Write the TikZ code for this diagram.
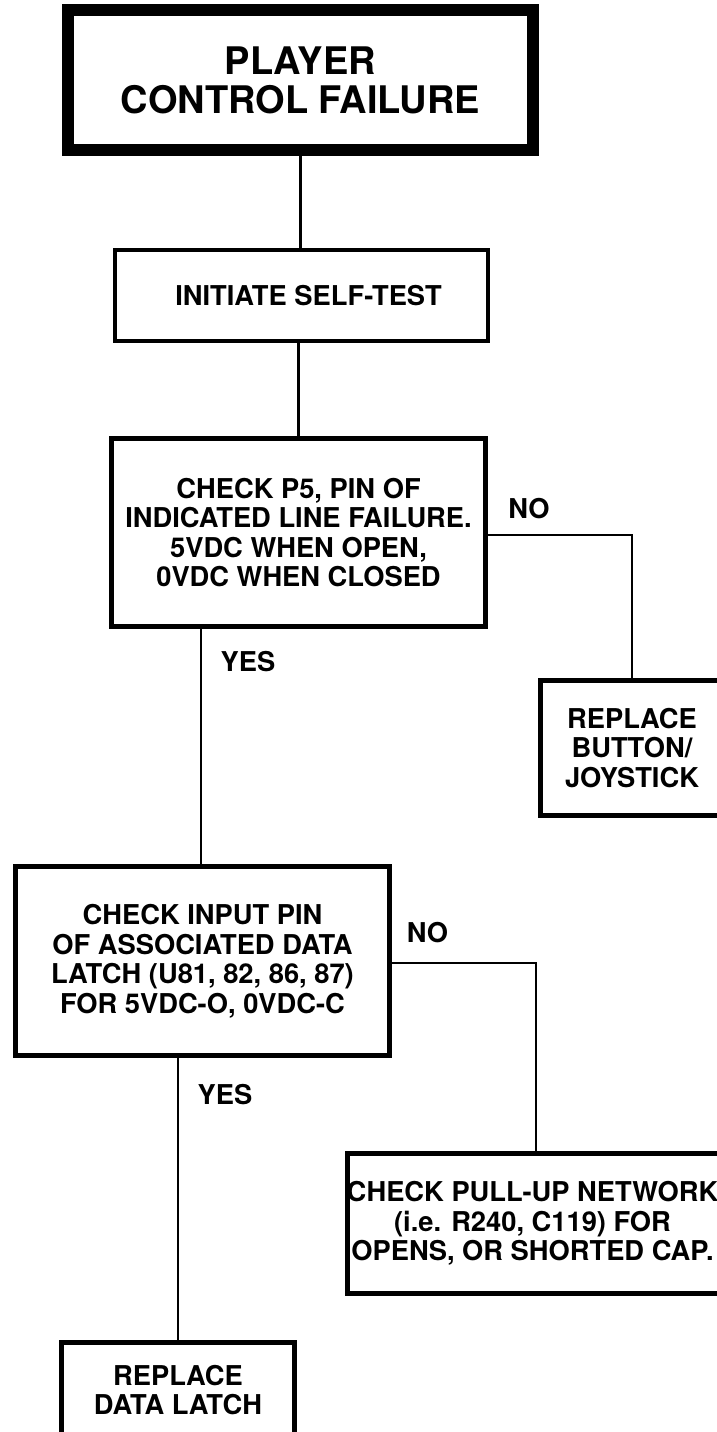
\documentclass[tikz,border=0pt]{standalone}
\usepackage{fontspec}
\setmainfont{TeX Gyre Heros}
\begin{document}
\begin{tikzpicture}[x=1pt,y=-1pt,
  every node/.style={font=\bfseries\fontsize{27.3}{29.5}\selectfont, align=center, inner sep=0pt},
  box/.style={draw, line width=5pt},
  titlebox/.style={draw, line width=12pt, font=\bfseries\fontsize{38}{39}\selectfont},
  conn/.style={line width=2.6pt},
  lbl/.style={}
]
\useasboundingbox (0,0) rectangle (717,1432);
\clip (0,0) rectangle (717,1432);
\fill[white] (0,0) rectangle (717,1432);

% boxes
\node[titlebox, minimum width=465pt, minimum height=140pt] (b1) at (300.5,80) {PLAYER\\CONTROL FAILURE};
\node[box, line width=4.5pt, minimum width=373pt, minimum height=91pt] (b2) at (301.5,295.5) {\hspace*{14pt}INITIATE SELF-TEST};
\node[box, minimum width=374pt, minimum height=188pt] (b3) at (298.5,532.5) {CHECK P5, PIN OF\\INDICATED LINE FAILURE.\\5VDC WHEN OPEN,\\0VDC WHEN CLOSED};
\node[box, minimum width=183pt, minimum height=135pt] (b4) at (632,748) {REPLACE\\BUTTON/\\JOYSTICK};
\node[box, minimum width=374pt, minimum height=189pt] (b5) at (202.5,961) {CHECK INPUT PIN\\OF ASSOCIATED DATA\\LATCH (U81, 82, 86, 87)\\FOR 5VDC-O, 0VDC-C};
\node[box, minimum width=377pt, minimum height=140pt] (b6) at (536,1223.5) {};
\node (b6t) at (532.5,1223.5) {CHECK PULL-UP NETWORK\\(i.e. R240, C119) FOR\\OPENS, OR SHORTED CAP.};
\node[box, minimum width=233pt, minimum height=95pt] (b7) at (178,1390) {REPLACE\\DATA LATCH};

% labels
\node[lbl] (no1) at (529,509) {NO};
\node[lbl] (yes1) at (248,662) {YES};
\node[lbl] (no2) at (427.5,933) {NO};
\node[lbl] (yes2) at (225,1095) {YES};

% junction coordinates
\coordinate (j1) at (632,535);
\coordinate (j2) at (201,700);
\coordinate (j3) at (536,963);

% connectors
\draw[conn] (b1.south) -- (b1.south |- b2.north);
\draw[conn] (b3.north |- b2.south) -- (b3.north);
\draw[conn] (b3.east |- j1) -| (b4.north);
\draw[conn] (b3.south -| j2) -- (b5.north -| j2);
\draw[conn] (b5.east |- j3) -| (b6.north);
\draw[conn] (b5.south -| b7.north) -- (b7.north);
\end{tikzpicture}
\end{document}
